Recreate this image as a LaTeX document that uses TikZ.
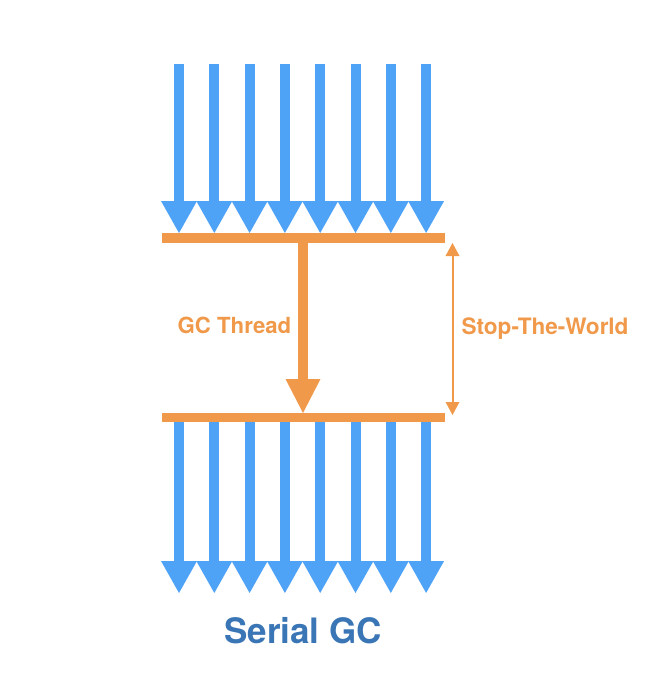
\documentclass[tikz,border=0pt]{standalone}
\usepackage{fontspec}
\setmainfont{TeX Gyre Heros}
\usepackage{tikz}
\usetikzlibrary{arrows.meta,positioning}

\definecolor{appblue}{RGB}{79,163,247}
\definecolor{gcorange}{RGB}{240,153,74}
\definecolor{titleblue}{RGB}{58,118,181}

\begin{document}
\begin{tikzpicture}[x=1pt,y=-1pt,
  appflow/.style={draw=appblue,line width=10pt,-{Triangle[width=36pt,length=32pt,line width=0pt]},fill=appblue},
  gcbar/.style={draw=gcorange,line width=9.5pt},
  gcflow/.style={draw=gcorange,line width=10pt,-{Triangle[width=35pt,length=34pt,line width=0pt]}},
  stw/.style={draw=gcorange,line width=2pt,{Triangle[width=14pt,length=13pt,line width=0pt]}-{Triangle[width=14pt,length=13pt,line width=0pt]}},
  every node/.style={font=\bfseries}]
\useasboundingbox (0,0) rectangle (652,678);
% application threads before the pause
\foreach \i in {0,...,7}{
  \coordinate (src\i) at ({179+35.3*\i},64);
  \coordinate (hit\i) at ({179+35.3*\i},233);
  \draw[appflow] (src\i) -- (hit\i);
}
% pause bars
\coordinate (stopL) at (162,238);
\coordinate (stopR) at (445,238);
\coordinate (goL) at (162,417.5);
\coordinate (goR) at (445,417.5);
\draw[gcbar] (stopL) -- (stopR);
\draw[gcbar] (goL) -- (goR);
% the single gc thread
\coordinate (gcA) at (303,243);
\coordinate (gcB) at (303,413);
\draw[gcflow] (gcA) -- (gcB);
\node[text=gcorange,font=\bfseries\fontsize{22.2}{26}\selectfont] (gclabel) at (234.5,325) {GC Thread};
% stop the world span
\coordinate (stwA) at (452.5,243);
\coordinate (stwB) at (452.5,415);
\draw[stw] (stwA) -- (stwB);
\node[text=gcorange,font=\bfseries\fontsize{22.6}{26}\selectfont] (stwlabel) at (545,329) {Stop-The-World};
% application threads after the pause
\foreach \i in {0,...,7}{
  \coordinate (res\i) at ({179+35.3*\i},422);
  \coordinate (end\i) at ({179+35.3*\i},593);
  \draw[appflow] (res\i) -- (end\i);
}
\node[text=titleblue,font=\bfseries\fontsize{35}{40}\selectfont] (title) at (303,631) {Serial GC};
\end{tikzpicture}
\end{document}
